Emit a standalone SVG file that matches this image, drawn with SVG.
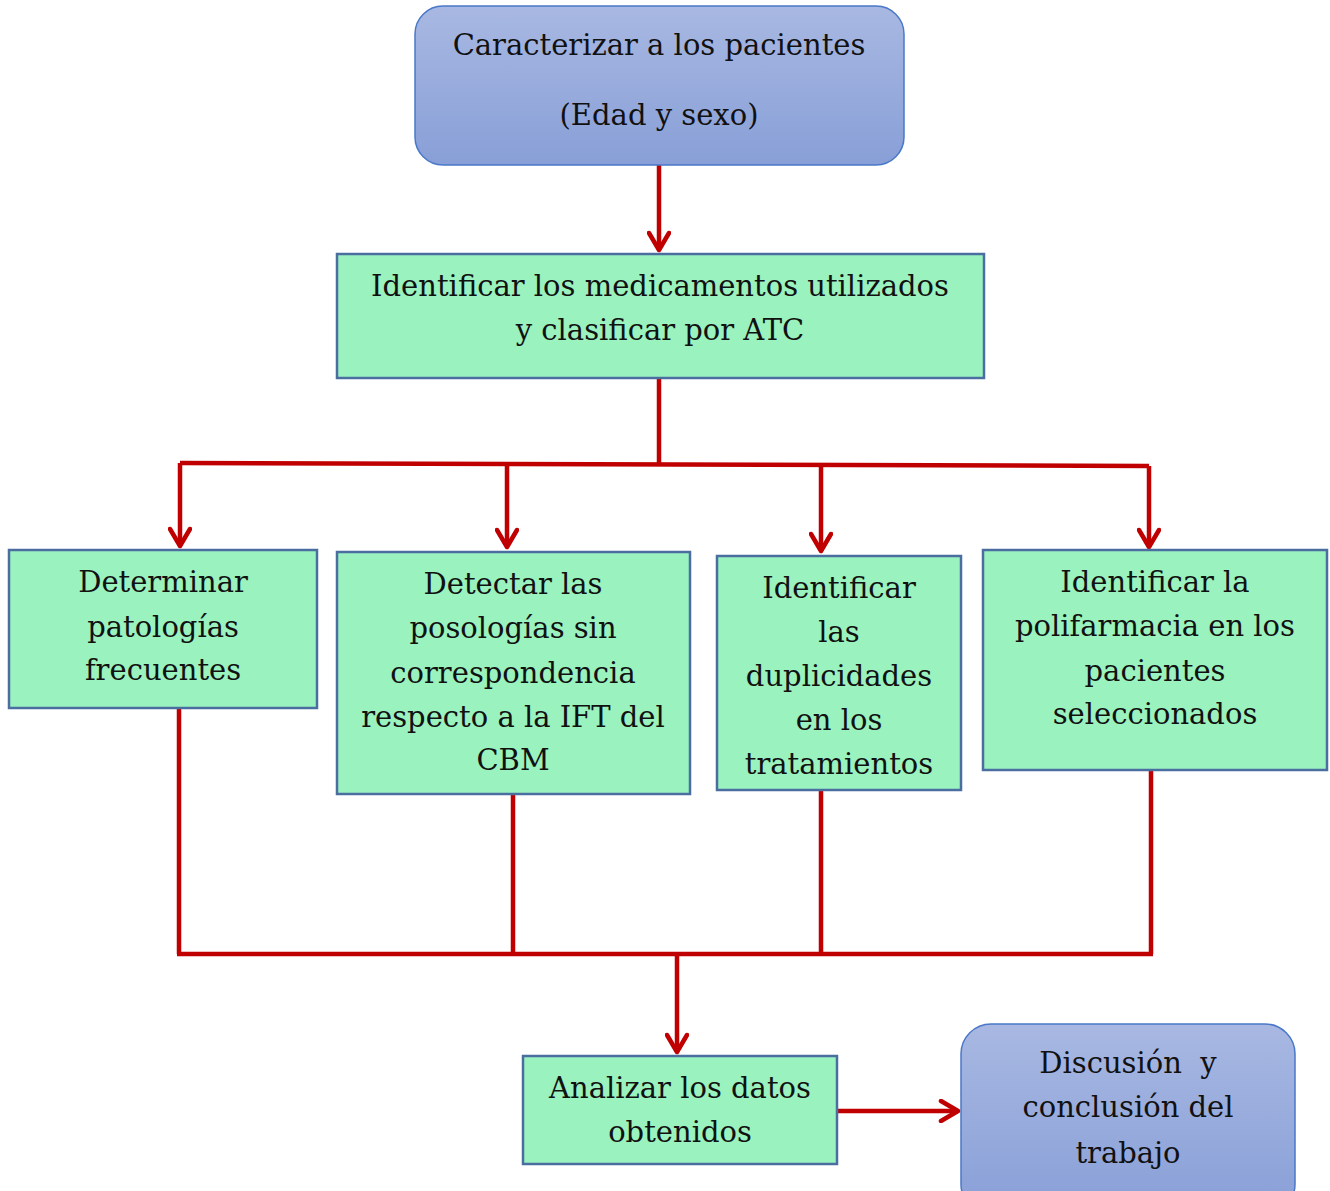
<svg xmlns="http://www.w3.org/2000/svg" width="1330" height="1191" viewBox="0 0 1330 1191">
<style>
.t{font-family:"DejaVu Serif","Liberation Serif",serif;font-size:29px;fill:#111;text-anchor:middle;white-space:pre}
.g{fill:#9af2be;stroke:#4a6ea0;stroke-width:2.5}
.b{fill:url(#bg);stroke:#4a78c8;stroke-width:1.5}
.c{fill:none;stroke:#c00000;stroke-width:4.5}
</style>
<defs>
<linearGradient id="bg" x1="0" y1="0" x2="0" y2="1">
<stop offset="0" stop-color="#a8b8e2"/>
<stop offset="1" stop-color="#889fd7"/>
</linearGradient>
<marker id="ah" viewBox="0 0 24 24" refX="21" refY="12" markerWidth="24" markerHeight="24" markerUnits="userSpaceOnUse" orient="auto">
<path d="M4,2 L21,12 L4,22" fill="none" stroke="#c00000" stroke-width="4.5" stroke-linecap="round" stroke-linejoin="round"/>
</marker>
</defs>
<g id="connectors">
<path class="c" d="M659,165 V250" marker-end="url(#ah)"/>
<path class="c" d="M659,378 V463"/>
<path class="c" d="M180,463 L1149,466"/>
<path class="c" d="M180,463 V546" marker-end="url(#ah)"/>
<path class="c" d="M507,464 V547" marker-end="url(#ah)"/>
<path class="c" d="M821,465 V551" marker-end="url(#ah)"/>
<path class="c" d="M1149,466 V547" marker-end="url(#ah)"/>
<path class="c" d="M179,708 V954"/>
<path class="c" d="M513,794 V954"/>
<path class="c" d="M821,790 V954"/>
<path class="c" d="M1151,770 V954"/>
<path class="c" d="M177,954 H1153"/>
<path class="c" d="M677,954 V1052" marker-end="url(#ah)"/>
<path class="c" d="M837,1111 H958" marker-end="url(#ah)"/>
</g>
<g id="n1">
<rect class="b" x="415" y="6" width="489" height="159" rx="28"/>
<text class="t" x="659" y="55">Caracterizar a los pacientes</text>
<text class="t" x="659" y="125">(Edad y sexo)</text>
</g>
<g id="n2">
<rect class="g" x="337" y="254" width="647" height="124"/>
<text class="t" x="660" y="296">Identificar los medicamentos utilizados</text>
<text class="t" x="660" y="340">y clasificar por ATC</text>
</g>
<g id="n3">
<rect class="g" x="9" y="550" width="308" height="158"/>
<text class="t" x="163" y="592">Determinar</text>
<text class="t" x="163" y="637">patologías</text>
<text class="t" x="163" y="680">frecuentes</text>
</g>
<g id="n4">
<rect class="g" x="337" y="552" width="353" height="242"/>
<text class="t" x="513" y="594">Detectar las</text>
<text class="t" x="513" y="638">posologías sin</text>
<text class="t" x="513" y="683">correspondencia</text>
<text class="t" x="513" y="727">respecto a la IFT del</text>
<text class="t" x="513" y="770">CBM</text>
</g>
<g id="n5">
<rect class="g" x="717" y="556" width="244" height="234"/>
<text class="t" x="839" y="598">Identificar</text>
<text class="t" x="839" y="642">las</text>
<text class="t" x="839" y="686">duplicidades</text>
<text class="t" x="839" y="730">en los</text>
<text class="t" x="839" y="774">tratamientos</text>
</g>
<g id="n6">
<rect class="g" x="983" y="550" width="344" height="220"/>
<text class="t" x="1155" y="592">Identificar la</text>
<text class="t" x="1155" y="636">polifarmacia en los</text>
<text class="t" x="1155" y="681">pacientes</text>
<text class="t" x="1155" y="724">seleccionados</text>
</g>
<g id="n7">
<rect class="g" x="523" y="1056" width="314" height="108"/>
<text class="t" x="680" y="1098">Analizar los datos</text>
<text class="t" x="680" y="1142">obtenidos</text>
</g>
<g id="n8">
<rect class="b" x="961" y="1024" width="334" height="190" rx="30"/>
<text class="t" x="1128" y="1073">Discusión  y</text>
<text class="t" x="1128" y="1117">conclusión del</text>
<text class="t" x="1128" y="1163">trabajo</text>
</g>
</svg>
